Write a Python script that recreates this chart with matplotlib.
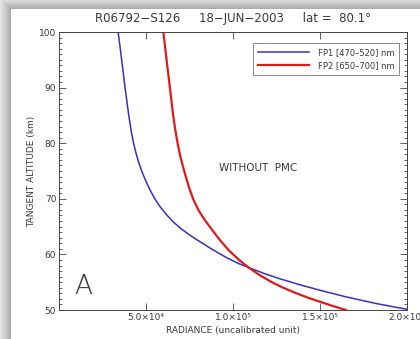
import numpy as np
import matplotlib
matplotlib.use("Agg")
import matplotlib.pyplot as plt
from matplotlib.ticker import FixedLocator, MultipleLocator

# ---- data ----
fp1_alt = [100, 94.96, 90.11, 85.07, 82.19, 79.86, 78.06, 76.26, 74.73, 73.02, 71.49,
           69.87, 68.52, 67.18, 65.83, 64.57, 63.40, 62.23, 60.88, 59.53, 58.36,
           57.64, 56.47, 55.57, 54.50, 53.51, 52.37, 51.17, 50.09]
fp1_rad = [34008, 36025, 37927, 40060, 41501, 42942, 44383, 46112, 47841, 50147, 52452,
           55334, 58216, 61675, 65710, 70321, 75508, 81272, 88189, 95682, 103176,
           108940, 118738, 127384, 138912, 150440, 164850, 182142, 200587]

fp2_alt = [100, 94.96, 90.11, 85.07, 82.55, 80.04, 77.61, 75.54, 73.65, 71.85, 69.87,
           67.98, 66.28, 64.57, 62.68, 60.79, 59.08, 57.64, 56.29, 55.12, 54.05,
           53.06, 52.23, 51.44, 50.72, 50.0]
fp2_rad = [59950, 61848, 63692, 65594, 66747, 68130, 69744, 71474, 73203, 74932, 77238,
           80120, 83578, 87613, 92224, 97412, 103176, 108940, 115280, 121620, 128537,
           136030, 142947, 150440, 157357, 164850]

series_labels = ["FP1 [470\u2013520] nm", "FP2 [650\u2013700] nm"]
series_colors = ["#3a2fc4", "#e01a1a"]

x_ticks = [5.0e4, 1.0e5, 1.5e5, 2.0e5]
x_tick_labels = ["5.0\u00d710\u2074", "1.0\u00d710\u2075", "1.5\u00d710\u2075", "2.0\u00d710\u2075"]
y_ticks = [50, 60, 70, 80, 90, 100]

title = "R06792\u2212S126     18\u2212JUN\u22122003     lat =  80.1\u00b0"

W, H = 420, 339
fig = plt.figure(figsize=(W / 100, H / 100), dpi=100)

# background with shadow around a white panel
bg = fig.add_axes([0, 0, 1, 1], zorder=-10)
jj, ii = np.meshgrid(np.arange(W), np.arange(H))
dx = np.clip(11 - jj, 0, None)
dy = np.clip(9 - ii, 0, None)
d = np.maximum(dx, dy).astype(float)
val = np.where(d > 0, 0.66 + 0.022 * d, 1.0)
img = np.dstack([val, val, val])
bg.imshow(img, aspect="auto", interpolation="bilinear")
bg.axis("off")

txt = "#3a3a3a"
plt.rcParams["font.family"] = ["DejaVu Sans"]

ax = fig.add_axes([59 / W, 1 - 310 / H, (407 - 59) / W, (310 - 32) / H])
ax.set_facecolor("none")
ax.plot(fp1_rad, fp1_alt, color=series_colors[0], lw=1.1, label=series_labels[0],
        solid_joinstyle="round")
ax.plot(fp2_rad, fp2_alt, color=series_colors[1], lw=1.6, label=series_labels[1],
        solid_joinstyle="round")

ax.set_xlim(0, 2.0e5)
ax.set_ylim(50, 100)
ax.xaxis.set_major_locator(FixedLocator(x_ticks))
ax.set_xticklabels(x_tick_labels)
ax.yaxis.set_major_locator(FixedLocator(y_ticks))
ax.yaxis.set_minor_locator(MultipleLocator(1))
ax.tick_params(which="both", direction="in", top=True, right=True, colors="#444444",
               labelcolor=txt, labelsize=6.5, width=0.6, pad=2)
ax.tick_params(which="major", length=5)
ax.tick_params(which="minor", length=2.5)
for s in ax.spines.values():
    s.set_color("#444444")
    s.set_linewidth(0.7)

ax.set_xlabel("RADIANCE (uncalibrated unit)", fontsize=6.5, color=txt, labelpad=3)
ax.set_ylabel("TANGENT ALTITUDE (km)", fontsize=6.5, color=txt, labelpad=2)
ax.set_title(title, fontsize=8.5, color=txt, pad=7)

leg = ax.legend(loc="upper right", fontsize=6, frameon=True, fancybox=False,
                edgecolor="#555555", handlelength=6.2, handletextpad=1.0,
                borderpad=0.6, labelspacing=0.45, bbox_to_anchor=(0.99, 0.975))
leg.get_frame().set_linewidth(0.6)
for t in leg.get_texts():
    t.set_color(txt)

ax.text(0.572, 0.51, "WITHOUT  PMC", transform=ax.transAxes, fontsize=7.5,
        color=txt, ha="center", va="center")
ax.text(0.069, 0.086, "A", transform=ax.transAxes, fontsize=19, color=txt,
        ha="center", va="center", fontweight="light")

fig.savefig("out.png", dpi=100)
